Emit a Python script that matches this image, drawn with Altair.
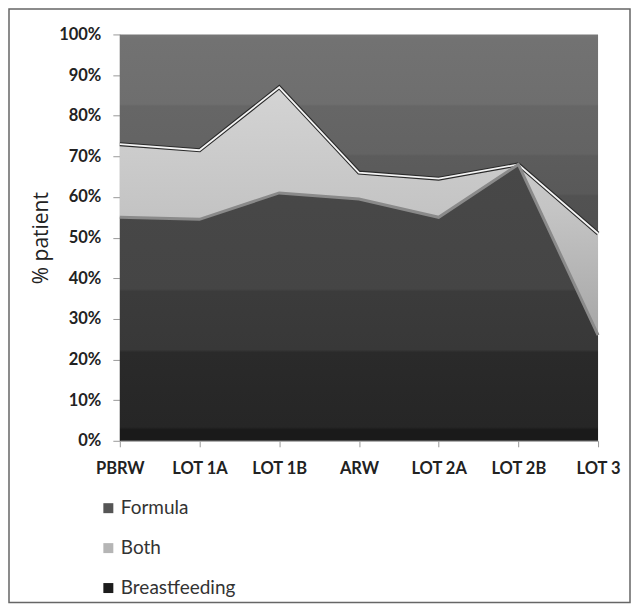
import altair as alt
import pandas as pd

categories = ["PBRW", "LOT 1A", "LOT 1B", "ARW", "LOT 2A", "LOT 2B", "LOT 3"]
breastfeeding = [55, 54.5, 61, 59.5, 55, 68, 26]
both = [18, 17, 26, 6.5, 9.5, 0, 25]
formula = [27, 28.5, 13, 34, 35.5, 32, 49]
series_names = ["Breastfeeding", "Both", "Formula"]
legend_order = ["Formula", "Both", "Breastfeeding"]

rows = []
for name, vals in zip(series_names, [breastfeeding, both, formula]):
    for c, v in zip(categories, vals):
        rows.append({"cat": c, "series": name, "value": v, "order": series_names.index(name)})
df = pd.DataFrame(rows)

W, H = 479, 407

def grad(stops):
    return alt.Gradient(gradient="linear", x1=0, x2=0, y1=0, y2=1,
                        stops=[alt.GradientStop(color=c, offset=o) for o, c in stops])

xenc = alt.X("cat:N", sort=categories, scale=alt.Scale(type="point", padding=0),
             axis=alt.Axis(title=None, labelAngle=0, labelFont="Lato", labelFontWeight="bold",
                           labelFontSize=16.5, labelColor="#222", labelPadding=14,
                           tickSize=6, tickColor="#999", domainColor="#999", grid=False))
yenc = alt.Y("lo:Q", scale=alt.Scale(domain=[0, 1], nice=False),
             axis=alt.Axis(title="% patient", format="%", values=[i / 10 for i in range(11)],
                           labelFont="Lato", labelFontWeight="bold", labelFontSize=16.5,
                           labelColor="#222", labelPadding=12, tickSize=7, tickColor="#999",
                           domainColor="#999", grid=False, titleFont="Open Sans",
                           titleFontSize=21, titleFontWeight="normal", titleColor="#222",
                           titlePadding=7))

base = alt.Chart(df).transform_stack(
    stack="value", groupby=["cat"], as_=["lo", "hi"], offset="normalize",
    sort=[alt.SortField("order", order="ascending")]
)

def area(name, fill):
    return base.transform_filter(alt.datum.series == name).mark_area(
        color=fill, interpolate="linear").encode(x=xenc, y=yenc, y2="hi:Q")

def edge(name, color, width):
    return base.transform_filter(alt.datum.series == name).mark_line(
        color=color, strokeWidth=width).encode(x=xenc, y=alt.Y("hi:Q"))

a_bf = area("Breastfeeding", grad([(0, "#484848"), (0.45, "#454545"), (0.46, "#3b3b3b"),
                                   (0.67, "#383838"), (0.68, "#2a2a2a"), (0.95, "#262626"),
                                   (0.96, "#1a1a1a"), (1, "#1a1a1a")]))
a_both = area("Both", grad([(0, "#d4d4d4"), (0.5, "#c4c4c4"), (1, "#a6a6a6")]))
a_form = area("Formula", grad([(0, "#777777"), (0.03, "#727272"), (0.35, "#6e6e6e"),
                               (0.36, "#666666"), (0.6, "#636363"), (0.61, "#5c5c5c"),
                               (0.8, "#595959"), (0.81, "#525252"), (1, "#505050")]))

l_bf = edge("Breastfeeding", "#8a8a8a", 3)
l_both_dark = edge("Both", "#2a2a2a", 4)
l_both = edge("Both", "#f4f4f4", 1.8)

legend_layer = base.mark_square(size=0, opacity=1, filled=True).encode(
    x=xenc, y=alt.Y("hi:Q"),
    color=alt.Color("series:N",
                    scale=alt.Scale(domain=legend_order, range=["#555555", "#b5b5b5", "#1c1c1c"]),
                    legend=alt.Legend(title=None, orient="none", legendX=-21, legendY=465,
                                      direction="vertical", symbolType="square", symbolSize=100,
                                      symbolOpacity=1, symbolStrokeWidth=0,
                                      labelFont="Lato", labelFontSize=19, labelColor="#333",
                                      rowPadding=20, labelOffset=3)))

frame = alt.Chart(pd.DataFrame({"a": [0]})).mark_rect(
    fillOpacity=0, stroke="#666", strokeWidth=1.5).encode(
    x=alt.value(-111), x2=alt.value(511), y=alt.value(-25.5), y2=alt.value(569))

chart = alt.layer(a_bf, a_both, a_form, l_both_dark, l_both, l_bf, legend_layer, frame).properties(
    width=W, height=H,
    padding={"left": 112, "top": 26, "right": 33, "bottom": 164},
    autosize=alt.AutoSizeParams(type="none"),
    background="white",
).configure_view(stroke=None)

chart.save("out.html", embed_options={"renderer": "svg", "actions": False})
